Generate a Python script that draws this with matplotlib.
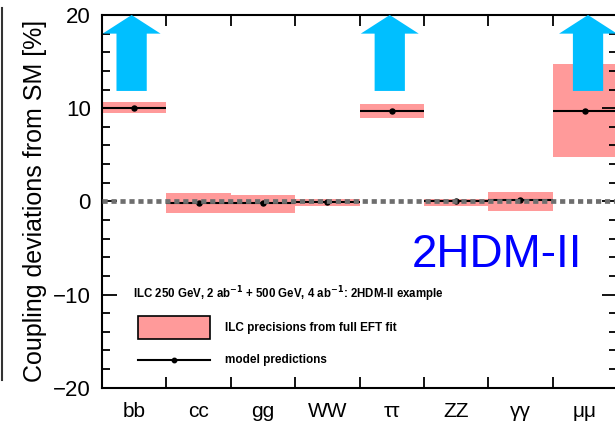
import matplotlib
matplotlib.use("Agg")
import matplotlib.pyplot as plt
import numpy as np
from matplotlib.patches import FancyArrow, Rectangle
from matplotlib.lines import Line2D
from matplotlib.ticker import MultipleLocator

plt.rcParams['font.family'] = ['Liberation Sans', 'DejaVu Sans']

# couplings and values (deviation from SM in %)
categories = ['bb', 'cc', 'gg', 'WW', 'ττ', 'ZZ', 'γγ', 'μμ']
prediction = [10.05, -0.2, -0.15, -0.05, 9.72, 0.0, 0.1, 9.72]
band_low = [9.45, -1.29, -1.29, -0.5, 8.9, -0.5, -1.0, 4.72]
band_high = [10.65, 0.92, 0.68, 0.28, 10.44, 0.28, 1.03, 14.7]

# off-scale arrows
arrow_idx = [0, 4, 7]
arrow_shift = [-0.04, -0.03, 0.05]
arrow_from = 11.85
arrow_to = 20.0

x = np.arange(len(categories)) + 0.5
low = np.array(band_low)
high = np.array(band_high)

fig = plt.figure(figsize=(6.15, 4.3), dpi=100)
ax = fig.add_axes([102 / 615, 1 - 387.7 / 430, 515 / 615, 372.7 / 430])

# EFT fit precision bands
ax.bar(x, high - low, bottom=low, width=1.0, color='#ff9a9a', zorder=1)

# model predictions
ax.hlines(prediction, x - 0.5, x + 0.5, color='k', lw=1.5, zorder=2)
ax.plot(x, prediction, 'o', color='k', ms=3.6, zorder=3)

# SM line
ax.axhline(0, color='#6e6e6e', lw=3.4, dashes=(1.1, 0.8), zorder=4)

for i, s in zip(arrow_idx, arrow_shift):
    ax.add_patch(FancyArrow(x[i] + s, arrow_from, 0, arrow_to - arrow_from,
                            width=0.47, head_width=0.9, head_length=2.0,
                            length_includes_head=True, color='#00bfff',
                            lw=0, zorder=5))

ax.set_xlim(0, len(categories))
ax.set_ylim(-20, 20)

ax.set_xticks(np.arange(1, len(categories)))
ax.set_xticklabels([])
ax.set_xticks(x, minor=True)
ax.set_xticklabels(categories, minor=True, fontsize=15)
ax.tick_params(axis='x', which='major', direction='in', length=8, width=1.3,
               top=True, bottom=True)
ax.tick_params(axis='x', which='minor', length=0, pad=10)

ax.yaxis.set_major_locator(MultipleLocator(10))
ax.yaxis.set_minor_locator(MultipleLocator(2))
ax.tick_params(axis='y', which='major', direction='in', length=11, width=1.3,
               left=True, right=True, labelsize=16, pad=8)
ax.tick_params(axis='y', which='minor', direction='in', length=6, width=1.3,
               left=True, right=True)
for sp in ax.spines.values():
    sp.set_linewidth(1.5)

ax.set_ylabel('Coupling deviations from SM [%]', fontsize=18, labelpad=4)

# legend block
ax.text(0.0596, 0.2514,
        r'ILC 250 GeV, 2 ab$^{\mathbf{-1}}$ + 500 GeV, 4 ab$^{\mathbf{-1}}$: 2HDM-II example',
        transform=ax.transAxes, fontsize=8.3, fontweight='bold', va='center')
ax.add_patch(Rectangle((0.0693, 0.1299), 0.1404, 0.0633, transform=ax.transAxes,
                       facecolor='#ff9a9a', edgecolor='k', lw=1.2, zorder=6))
ax.text(0.2388, 0.1615, 'ILC precisions from full EFT fit', transform=ax.transAxes,
        fontsize=8.5, fontweight='bold', va='center')
ax.add_line(Line2D([0.0693, 0.2097], [0.0743, 0.0743], transform=ax.transAxes,
                   color='k', lw=1.5))
ax.add_line(Line2D([0.1398], [0.0743], transform=ax.transAxes, color='k',
                   marker='o', ms=3.2))
ax.text(0.2388, 0.0743, 'model predictions', transform=ax.transAxes,
        fontsize=8.5, fontweight='bold', va='center')

ax.text(0.6014, 0.3247, '2HDM-II', transform=ax.transAxes, fontsize=33,
        color='#0000ff', va='baseline')

# edge of neighbouring panel
fig.add_artist(Line2D([2 / 615, 2 / 615], [1 - 8 / 430, 1 - 380 / 430],
                      transform=fig.transFigure, color='#333333', lw=1.5))

fig.savefig('out.png', dpi=100)
